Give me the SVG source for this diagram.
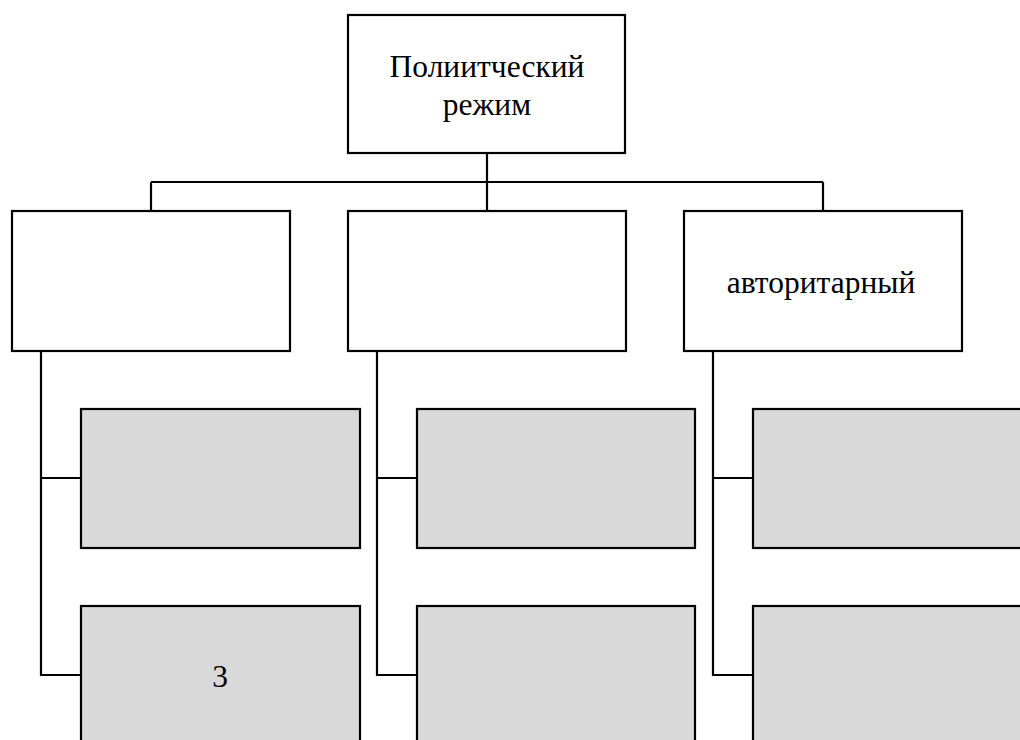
<svg xmlns="http://www.w3.org/2000/svg" width="1020" height="740" viewBox="0 0 1020 740">
<defs>
<style>
rect.box{fill:#ffffff;stroke:#000000;stroke-width:2.2}
rect.sub{fill:#d9d9d9;stroke:#000000;stroke-width:2.2}
.con{fill:none;stroke:#000000;stroke-width:2.2}
text.t{font-family:'Liberation Serif','Times New Roman',serif;font-size:31.5px;fill:#000000;text-anchor:middle}
</style>
</defs>
<rect width="1020" height="740" fill="#ffffff"/>
<g id="connectors">
<line class="con" x1="487" y1="153" x2="487" y2="211"/>
<line class="con" x1="151" y1="182" x2="823" y2="182"/>
<line class="con" x1="151" y1="182" x2="151" y2="211"/>
<line class="con" x1="823" y1="182" x2="823" y2="211"/>
<polyline class="con" points="41,351 41,675 81,675"/>
<line class="con" x1="41" y1="478" x2="81" y2="478"/>
<polyline class="con" points="377,351 377,675 417,675"/>
<line class="con" x1="377" y1="478" x2="417" y2="478"/>
<polyline class="con" points="713,351 713,675 753,675"/>
<line class="con" x1="713" y1="478" x2="753" y2="478"/>
</g>
<g id="root">
<rect class="box" x="348" y="15" width="277" height="138"/>
<text class="t" x="487" y="77">Полиитческий</text>
<text class="t" x="487" y="115">режим</text>
</g>
<g id="type1">
<rect class="box" x="12" y="211" width="278" height="140"/>
</g>
<g id="type2">
<rect class="box" x="348" y="211" width="278" height="140"/>
</g>
<g id="type3">
<rect class="box" x="684" y="211" width="278" height="140"/>
<text class="t" x="821" y="293">авторитарный</text>
</g>
<g id="type1-a">
<rect class="sub" x="81" y="409" width="279" height="139"/>
</g>
<g id="type1-b">
<rect class="sub" x="81" y="606" width="279" height="150"/>
<text class="t" x="220" y="687">3</text>
</g>
<g id="type2-a">
<rect class="sub" x="417" y="409" width="278" height="139"/>
</g>
<g id="type2-b">
<rect class="sub" x="417" y="606" width="278" height="150"/>
</g>
<g id="type3-a">
<rect class="sub" x="753" y="409" width="290" height="139"/>
</g>
<g id="type3-b">
<rect class="sub" x="753" y="606" width="290" height="150"/>
</g>
</svg>
